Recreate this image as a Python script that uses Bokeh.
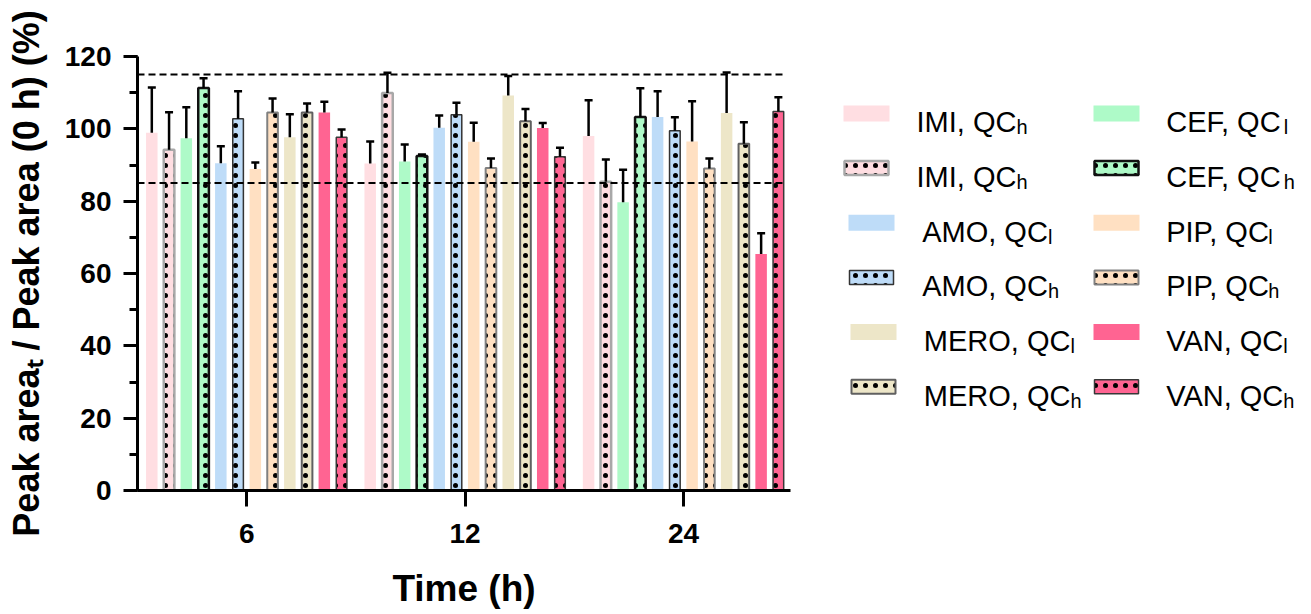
import math
from bokeh.plotting import figure
from bokeh.models import (Range1d, SingleIntervalTicker, FixedTicker, ColumnDataSource, Whisker,
                          TeeHead)
from bokeh.layouts import row
from bokeh.embed import file_html
from bokeh.resources import INLINE
from bokeh.core.properties import value

# ---------------- data ----------------
times = ["6", "12", "24"]
drugs = ["IMI", "CEF", "AMO", "PIP", "MERO", "VAN"]
# bar order inside each time group: IMI l, IMI h, CEF l, CEF h, AMO l, AMO h, PIP l, PIP h, MERO l, MERO h, VAN l, VAN h
mean_6 = [98.9, 94.2, 97.4, 111.3, 90.5, 102.8, 88.9, 104.5, 97.7, 104.5, 104.5, 97.7]
sd_6 = [12.5, 10.4, 8.6, 2.7, 4.7, 7.6, 1.8, 3.9, 6.3, 2.5, 3.0, 2.1]
mean_12 = [90.4, 109.9, 91.0, 92.5, 100.3, 103.9, 96.4, 89.2, 109.2, 102.1, 100.2, 92.3]
sd_12 = [6.1, 5.6, 4.7, 0.4, 3.4, 3.3, 5.3, 2.6, 5.4, 3.4, 1.4, 2.5]
mean_24 = [98.0, 85.4, 79.7, 103.3, 103.3, 99.5, 96.5, 89.0, 104.4, 95.9, 65.4, 104.8]
sd_24 = [9.9, 6.1, 9.0, 7.9, 7.1, 3.7, 11.1, 2.8, 11.2, 5.9, 5.7, 3.9]
legend_text = ["IMI, QC", "IMI, QC", "CEF, QC", "CEF, QC", "AMO, QC", "AMO, QC",
               "PIP, QC", "PIP, QC", "MERO, QC", "MERO, QC", "VAN, QC", "VAN, QC"]
legend_sub = ["h", "h", "l", "h", "l", "h", "l", "h", "l", "h", "l", "h"]
limit_lines = [85, 115]
y_ticks_interval = 20
y_title = "Peak area\u209c / Peak area (0 h) (%)"
x_title = "Time (h)"

# ---------------- styles ----------------
FONT = "Liberation Sans"
drug_fill = {"IMI": "#FFDEE2", "CEF": "#AEFAC8", "AMO": "#BEDCF8",
             "PIP": "#FFE0C2", "MERO": "#EDE6C8", "VAN": "#FF6492"}
h_line = {"IMI": ("#A8A8A8", 2.5), "CEF": ("#111111", 2.5), "AMO": ("#333333", 1.5),
          "PIP": ("#808080", 2.0), "MERO": ("#606060", 2.0), "VAN": ("#383838", 1.5)}
HATCH = dict(hatch_pattern="dot", hatch_color="black", hatch_scale=10, hatch_weight=1)

# Arial/Liberation advance widths (per 1000 em) and kerning pairs
W_REG = {"I": 278, "M": 833, ",": 278, " ": 278, "Q": 778, "C": 722, "A": 667, "O": 778,
         "E": 667, "R": 722, "F": 611, "P": 667, "V": 667, "N": 722}
KERN = {"P,": -152, "VA": -74}

def text_w(s, size, table):
    w = sum(table.get(c, 556) for c in s)
    w += sum(KERN.get(s[i:i + 2], 0) for i in range(len(s) - 1))
    return w * size / 1000.0

means = [mean_6, mean_12, mean_24]
sds = [sd_6, sd_12, sd_24]
n_series = len(legend_text)
slot = 0.079
bw = 0.0527

# page geometry (px)
W_MAIN, W_LEG, H = 830, 481, 614
F_LEFT, F_RIGHT, F_TOP, F_BOTTOM = 137, 790, 56, 490

# ---------------- main plot ----------------
p = figure(width=W_MAIN, height=H, x_range=Range1d(-0.5, 2.49), y_range=Range1d(0, 120),
           output_backend="svg", toolbar_location=None,
           min_border_left=F_LEFT, min_border_right=W_MAIN - F_RIGHT,
           min_border_top=F_TOP, min_border_bottom=H - F_BOTTOM)
p.outline_line_color = None
p.xgrid.visible = False
p.ygrid.visible = False
p.background_fill_color = "white"
p.border_fill_color = "white"

for k in range(n_series):
    drug = drugs[k // 2]
    xs = [g + (k - (n_series - 1) / 2) * slot for g in range(len(times))]
    tops = [means[g][k] for g in range(len(times))]
    errs = [sds[g][k] for g in range(len(times))]
    src = ColumnDataSource(dict(x=xs, top=tops, upper=[t + e for t, e in zip(tops, errs)]))
    if k % 2 == 0:
        p.vbar(x="x", top="top", width=bw, source=src, fill_color=drug_fill[drug], line_color=None)
    else:
        lc, lw = h_line[drug]
        p.vbar(x="x", top="top", width=bw - 0.004, source=src, fill_color=drug_fill[drug],
               line_color=lc, line_width=lw, **HATCH)
    wh = Whisker(source=src, base="x", lower="top", upper="upper", dimension="height",
                 line_color="black", line_width=2.5, lower_head=None,
                 upper_head=TeeHead(size=8, line_color="black", line_width=2.5), level="glyph")
    p.add_layout(wh)

x_end = (len(times) - 1) + ((n_series - 1) / 2) * slot + bw / 2
p.segment(x0=[-0.5] * len(limit_lines), x1=[x_end] * len(limit_lines), y0=limit_lines, y1=limit_lines,
          line_color="black", line_width=2, line_dash="7 4")

p.yaxis.ticker = SingleIntervalTicker(interval=y_ticks_interval, num_minor_ticks=2)
p.xaxis.ticker = FixedTicker(ticks=list(range(len(times))))
p.xaxis.major_label_overrides = {i: t for i, t in enumerate(times)}
for ax in (p.xaxis, p.yaxis):
    ax.axis_line_width = 3
    ax.axis_line_color = "black"
    ax.major_tick_line_width = 3
    ax.major_tick_line_color = "black"
    ax.minor_tick_line_width = 3
    ax.minor_tick_line_color = "black"
    ax.major_tick_in = 0
    ax.minor_tick_in = 0
    ax.major_label_text_font = FONT
    ax.major_label_text_font_style = "bold"
    ax.major_label_text_font_size = "28px"
    ax.major_label_text_color = "black"
    ax.axis_label_text_font = FONT
    ax.axis_label_text_font_style = "bold"
    ax.axis_label_text_color = "black"
p.yaxis.major_tick_out = 14
p.yaxis.minor_tick_out = 8
p.yaxis.major_label_standoff = 12
p.yaxis.axis_label = y_title
p.yaxis.axis_label_text_font_size = "36px"
p.yaxis.axis_label_standoff = 15
p.xaxis.major_tick_out = 16
p.xaxis.minor_tick_out = 0
p.xaxis.minor_tick_line_color = None
p.xaxis.major_label_standoff = 17
p.xaxis.axis_label = x_title
p.xaxis.axis_label_text_font_size = "37px"
p.xaxis.axis_label_standoff = 22

# ---------------- legend (separate figure, page coordinates) ----------------
lg = figure(width=W_LEG, height=H, x_range=Range1d(W_MAIN, W_MAIN + W_LEG),
            y_range=Range1d(F_BOTTOM, F_TOP),
            output_backend="svg", toolbar_location=None, x_axis_type=None, y_axis_type=None,
            min_border_left=0, min_border_right=0, min_border_top=F_TOP,
            min_border_bottom=H - F_BOTTOM)
lg.outline_line_color = None
lg.xgrid.visible = False
lg.ygrid.visible = False
LF, LS = 29, 20
row0, row_step = 121.7, 54.66
col_sw_left = {"IMI": 843, "AMO": 848, "MERO": 850, "CEF": 1093, "PIP": 1093, "VAN": 1093}
col_tx_left = {"IMI": 916, "AMO": 921.7, "MERO": 923.3, "CEF": 1165.7, "PIP": 1165.7, "VAN": 1165.7}
sw_w, sw_h = 46, 16
for k in range(n_series):
    d = k // 2
    drug = drugs[d]
    r = (d // 2) * 2 + (k % 2)
    base = row0 + r * row_step
    sx = col_sw_left[drug] + sw_w / 2
    sy = base - 8.8
    if k % 2 == 0:
        lg.rect(x=[sx], y=[sy], width=sw_w, height=sw_h, fill_color=drug_fill[drug], line_color=None)
    else:
        lc, lw = h_line[drug]
        lg.rect(x=[sx], y=[sy], width=sw_w - 2, height=sw_h - 2, fill_color=drug_fill[drug],
                line_color=lc, line_width=lw, **HATCH)
    tx = col_tx_left[drug]
    lg.text(x=[tx], y=[base], text=[legend_text[k]], text_font=value(FONT), text_font_size=f"{LF}px",
            text_align="left", text_baseline="alphabetic", text_color="black")
    lg.text(x=[tx + text_w(legend_text[k], LF, W_REG)], y=[base + 5], text=[legend_sub[k]],
            text_font=value(FONT), text_font_size=f"{LS}px", text_align="left",
            text_baseline="alphabetic", text_color="black")

layout = row(p, lg)
open("out.html", "w").write(file_html(layout, INLINE))
